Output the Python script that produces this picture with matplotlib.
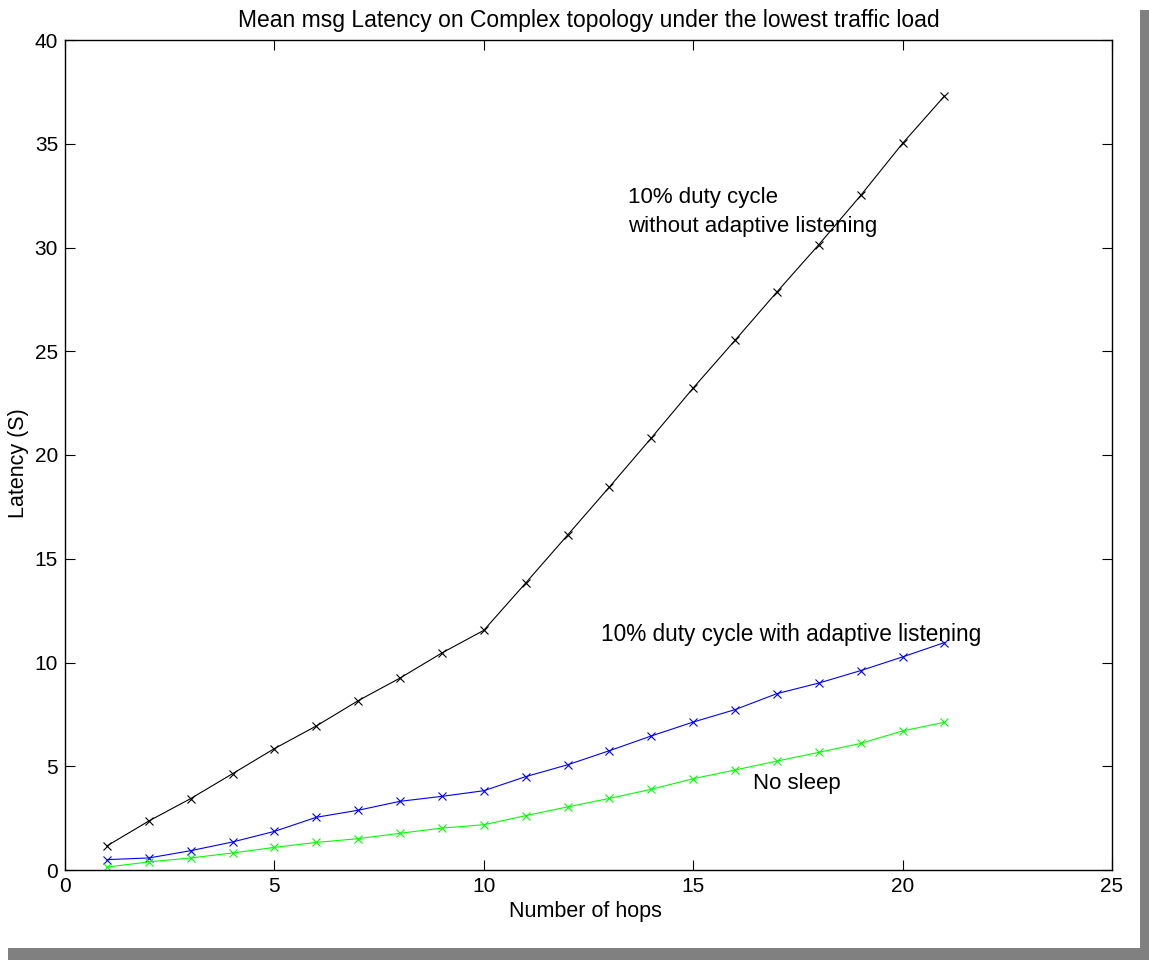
import matplotlib
matplotlib.use("Agg")
import matplotlib.pyplot as plt
from matplotlib.patches import Rectangle
import numpy as np

# Data
hops = list(range(1, 22))
no_adaptive = [1.16, 2.36, 3.44, 4.64, 5.85, 6.94, 8.16, 9.25, 10.46, 11.55,
               13.83, 16.14, 18.46, 20.82, 23.23, 25.53, 27.86, 30.14, 32.51,
               35.02, 37.30]
adaptive = [0.50, 0.58, 0.93, 1.35, 1.86, 2.54, 2.88, 3.31, 3.55, 3.82,
            4.50, 5.07, 5.75, 6.46, 7.13, 7.73, 8.50, 9.01, 9.61, 10.27,
            10.96]
no_sleep = [0.14, 0.39, 0.58, 0.82, 1.09, 1.33, 1.51, 1.77, 2.02, 2.18,
            2.62, 3.04, 3.45, 3.89, 4.40, 4.82, 5.25, 5.67, 6.10, 6.70,
            7.12]

plt.rcParams['font.family'] = ['Liberation Sans', 'DejaVu Sans']

fig = plt.figure(figsize=(11.49, 9.6), dpi=100, facecolor='w')

# MATLAB-style drop shadow around the figure
fig.patches.append(Rectangle((1140 / 1149, 0.0), 9 / 1149, 950 / 960,
                             transform=fig.transFigure, facecolor='#808080',
                             edgecolor='none', zorder=0))
fig.patches.append(Rectangle((8 / 1149, 0.0), 1141 / 1149, 12 / 960,
                             transform=fig.transFigure, facecolor='#808080',
                             edgecolor='none', zorder=0))

ax = fig.add_axes([65 / 1149, 90 / 960, 1047 / 1149, 830 / 960])

ax.plot(hops, no_adaptive, color='k', marker='x', markersize=6,
        linewidth=0.8, markeredgewidth=0.8)
ax.plot(hops, adaptive, color='b', marker='x', markersize=6,
        linewidth=0.8, markeredgewidth=0.8)
ax.plot(hops, no_sleep, color='#00ff00', marker='x', markersize=6,
        linewidth=0.8, markeredgewidth=0.8)

ax.set_xlim(0, 25)
ax.set_ylim(0, 40)
ax.set_xticks(range(0, 26, 5))
ax.set_yticks(range(0, 41, 5))
ax.tick_params(direction='in', length=7, width=0.8, top=True, right=True,
               labelsize=15, pad=5)
for s in ax.spines.values():
    s.set_linewidth(1.0)

ax.text(13.45, 32.4, '10% duty cycle', fontsize=16, va='center')
ax.text(13.45, 31.0, 'without adaptive listening', fontsize=16,
        va='center')
ax.text(12.8, 11.37, '10% duty cycle with adaptive listening',
        fontsize=16.3, va='center')
ax.text(16.43, 4.19, 'No sleep', fontsize=16, va='center')

ax.set_title('Mean msg Latency on Complex topology under the lowest traffic load',
             fontsize=16.5, pad=9.5)
ax.set_xlabel('Number of hops', fontsize=15.5)
ax.xaxis.set_label_coords(0.497, -0.037)
ax.set_ylabel('Latency (S)', fontsize=15.5)
ax.yaxis.set_label_coords(-0.034, 0.49)

fig.savefig('out.png', dpi=100, facecolor='w')
